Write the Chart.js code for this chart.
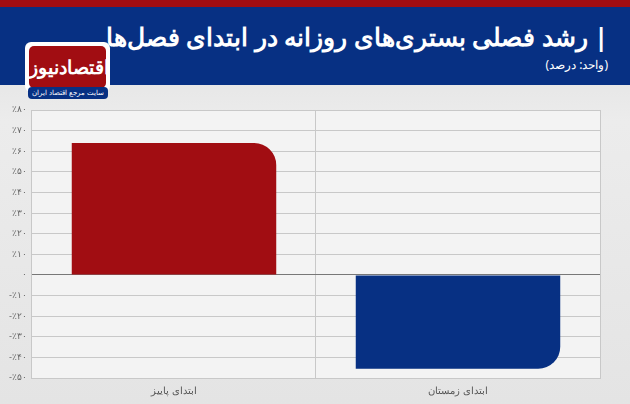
<!DOCTYPE html>
<html><head><meta charset="utf-8">
<script src="https://cdn.jsdelivr.net/npm/chart.js@4"></script>
<style>
body{margin:0;width:630px;height:404px;overflow:hidden;font-family:"Noto Sans",sans-serif;background:linear-gradient(#dcdcdc,#ececec 30%,#e4e4e4);position:relative}
#red{position:absolute;left:0;top:0;width:630px;height:7px;background:#a10d12}
#head{position:absolute;left:0;top:7px;width:630px;height:78px;background:#073083}
#title{position:absolute;right:22px;top:12px;color:#fff;font-size:25px;font-weight:bold;direction:rtl}
#unit{position:absolute;right:22px;top:49px;color:#fff;font-size:12px;direction:rtl}
#logo{position:absolute;left:25px;top:42px;width:85px;height:50px;background:#fff;border-radius:6px}
#logo div{position:absolute;left:4px;top:4px;width:77px;height:42px;background:#a10d12;border-radius:5px;color:#fff;font-size:19px;font-weight:bold;text-align:center;line-height:42px}
#sub{position:absolute;left:28px;top:87px;width:80px;height:12px;background:#073083;border-radius:4px;color:#fff;font-size:7px;text-align:center;line-height:12px}
#wrap{position:absolute;left:0;top:92px;width:630px;height:312px}
</style></head><body>
<div id="red"></div><div id="head"><div id="title">| رشد فصلی بستری‌های روزانه در ابتدای فصل‌ها</div><div id="unit">(واحد: درصد)</div></div>
<div id="logo"><div>اقتصادنیوز</div></div><div id="sub">سایت مرجع اقتصاد ایران</div>
<div id="wrap"><canvas id="c"></canvas></div>
<script>
const categories = ["ابتدای پاییز", "ابتدای زمستان"];
const values = [64, -45.5];
const colors = ["#a10d12", "#073083"];

const fa = n => String(Math.abs(n)).replace(/\d/g, d => "۰۱۲۳۴۵۶۷۸۹"[d]);
const bgPlugin = {
  id: "bg",
  beforeDraw(ch) {
    const a = ch.chartArea, x = ch.ctx;
    x.save(); x.fillStyle = "#f3f3f3"; x.fillRect(a.left, a.top, a.right - a.left, a.bottom - a.top); x.restore();
  }
};

new Chart(document.getElementById("c"), {
  type: "bar",
  data: {
    labels: categories,
    datasets: [{
      data: values,
      backgroundColor: colors,
      borderRadius: c => c.raw < 0
        ? { topRight: 0, topLeft: 0, bottomLeft: 0, bottomRight: 22 }
        : { topRight: 22, topLeft: 0, bottomLeft: 0, bottomRight: 0 },
      borderSkipped: false,
      categoryPercentage: 0.72,
      barPercentage: 1
    }]
  },
  options: {
    responsive: true,
    maintainAspectRatio: false,
    animation: false,
    layout: { padding: { top: 18, right: 30, left: 4, bottom: 0 } },
    plugins: { legend: { display: false }, tooltip: { enabled: false } },
    scales: {
      x: {
        grid: { color: "#c8c8c8", offset: true, drawTicks: false },
        border: { color: "#c8c8c8" },
        ticks: { color: "#555", font: { size: 10 }, padding: 7 }
      },
      y: {
        min: -50, max: 80,
        ticks: {
          stepSize: 10, color: "#666", font: { size: 9 }, padding: 5,
          callback: v => v === 0 ? "۰" : (v < 0 ? "-" : "") + "٪" + fa(v)
        },
        grid: { color: c => c.tick.value === 0 ? "#777" : "#c8c8c8", drawTicks: false },
        border: { display: false }
      }
    }
  },
  plugins: [bgPlugin]
});
</script></body></html>
